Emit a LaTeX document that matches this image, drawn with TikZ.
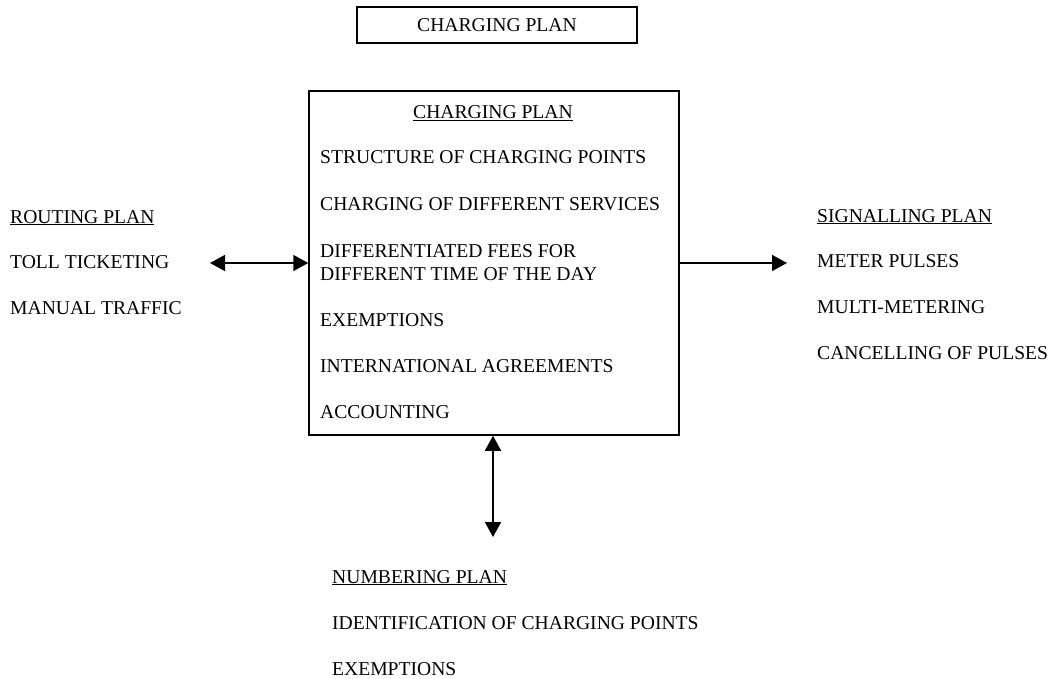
\documentclass[tikz,border=0pt]{standalone}
\usepackage{fontspec}
\setmainfont{Liberation Serif}
\usetikzlibrary{arrows.meta}
\begin{document}
\begin{tikzpicture}[x=1pt,y=-1pt,
  >={Triangle[length=15pt,width=16pt]},
  every node/.style={font=\fontsize{19.6}{23}\selectfont},
  txt/.style={anchor=base west, inner sep=0pt},
  ttl/.style={anchor=base, inner sep=0pt},
  frame/.style={draw, line width=1.5pt, inner sep=0pt},
  link/.style={line width=1.6pt, <->},
  oneway/.style={line width=1.6pt, ->}]
\useasboundingbox (0,0) rectangle (1051,679);

% heading box
\node[frame, minimum width=280pt, minimum height=36pt] (head) at (497,25) {CHARGING PLAN};

% central charging plan box
\node[frame, minimum width=370pt, minimum height=344pt] (plan) at (494,263) {};
\node[ttl] (ptitle) at (493,119) {\underline{CHARGING PLAN}};
\node[txt] (p1) at (320,164) {STRUCTURE OF CHARGING POINTS};
\node[txt] (p2) at (320,211) {CHARGING OF DIFFERENT SERVICES};
\node[txt] (p3) at (320,257) {DIFFERENTIATED FEES FOR};
\node[txt] (p4) at (320,280) {DIFFERENT TIME OF THE DAY};
\node[txt] (p5) at (320,326) {EXEMPTIONS};
\node[txt] (p6) at (320,372) {INTERNATIONAL AGREEMENTS};
\node[txt] (p7) at (320,418) {ACCOUNTING};

% routing plan
\node[txt] (rtitle) at (10,223) {\underline{ROUTING PLAN}};
\node[txt] (r1) at (10,268) {TOLL TICKETING};
\node[txt] (r2) at (10,314) {MANUAL TRAFFIC};

% signalling plan
\node[txt] (stitle) at (817,222) {\underline{SIGNALLING PLAN}};
\node[txt] (s1) at (817,267) {METER PULSES};
\node[txt] (s2) at (817,313) {MULTI-METERING};
\node[txt] (s3) at (817,359) {CANCELLING OF PULSES};

% numbering plan
\node[txt] (ntitle) at (332,583) {\underline{NUMBERING PLAN}};
\node[txt] (n1) at (332,629) {IDENTIFICATION OF CHARGING POINTS};
\node[txt] (n2) at (332,675) {EXEMPTIONS};

% connectors
\coordinate (rend) at (210,263);
\coordinate (send) at (787,263);
\coordinate (nend) at (493,537);
\draw[link] (rend) -- (plan.west);
\draw[oneway] (plan.east) -- (send);
\draw[link] (plan.south -| nend) -- (nend);
\end{tikzpicture}
\end{document}
